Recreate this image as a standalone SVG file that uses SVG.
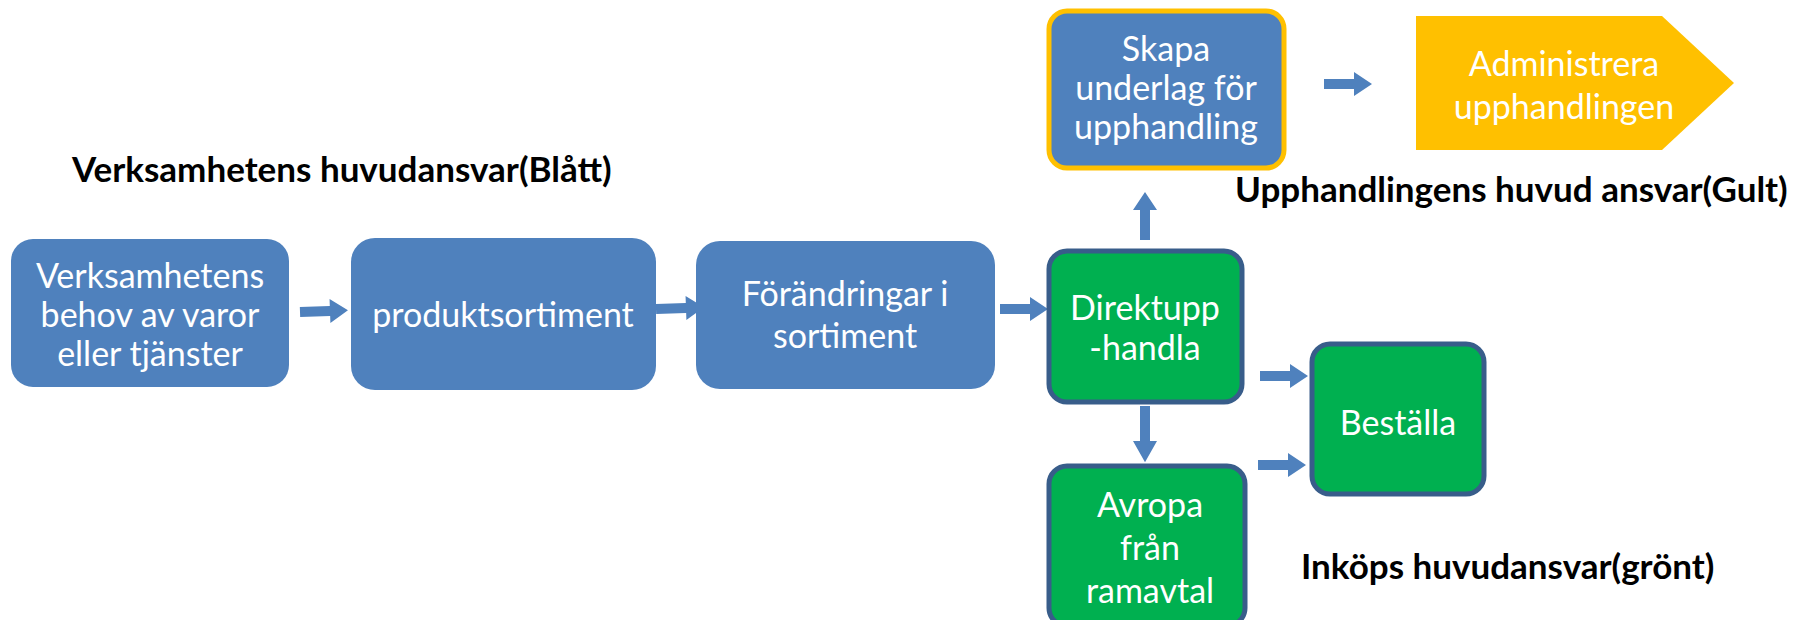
<svg xmlns="http://www.w3.org/2000/svg" width="1810" height="620" viewBox="0 0 1810 620">
  <defs>
    <style>
      .lbl { font-family: Lato, "Liberation Sans", sans-serif; font-size: 34px; fill: #ffffff; text-anchor: middle; dominant-baseline: central; }
      .head { font-family: Lato, "Liberation Sans", sans-serif; font-size: 35px; font-weight: bold; fill: #000000; }
      .blue { fill: #4F81BD; }
      .green { fill: #00B050; stroke: #385D8A; stroke-width: 5; }
      .yellowedge { fill: #4F81BD; stroke: #FFC000; stroke-width: 5; }
      .arrow { fill: #4F81BD; }
    </style>
    <!-- block arrow pointing right, origin at tail centre, length 48 -->
    <path id="blk" d="M0,-5 H30 V-12 L48,0 L30,12 V5 H0 Z"/>
  </defs>
  <rect width="1810" height="620" fill="#ffffff"/>

  <!-- area headings -->
  <text class="head" x="72" y="182">Verksamhetens huvudansvar(Blått)</text>
  <text class="head" x="1235" y="202">Upphandlingens huvud ansvar(Gult)</text>
  <text class="head" x="1301" y="579">Inköps huvudansvar(grönt)</text>

  <!-- connectors -->
  <g id="connectors" class="arrow">
    <use href="#blk" transform="translate(300,312) rotate(-2)"/>
    <use href="#blk" transform="translate(656,309) rotate(-2)"/>
    <use href="#blk" transform="translate(1000,309)"/>
    <use href="#blk" transform="translate(1145,240) rotate(-90)"/>
    <use href="#blk" transform="translate(1324,84)"/>
    <use href="#blk" transform="translate(1145,406) rotate(90) scale(1.17,1)"/>
    <use href="#blk" transform="translate(1260,376)"/>
    <use href="#blk" transform="translate(1258,465)"/>
  </g>

  <g id="behov">
    <rect class="blue" x="11" y="239" width="278" height="148" rx="22"/>
    <text class="lbl" x="150" y="274">Verksamhetens</text>
    <text class="lbl" x="150" y="313">behov av varor</text>
    <text class="lbl" x="150" y="352">eller tjänster</text>
  </g>

  <g id="produktsortiment">
    <rect class="blue" x="351" y="238" width="305" height="152" rx="24"/>
    <text class="lbl" x="503" y="313">produktsortiment</text>
  </g>

  <g id="forandringar">
    <rect class="blue" x="696" y="241" width="299" height="148" rx="24"/>
    <text class="lbl" x="845" y="292">Förändringar i</text>
    <text class="lbl" x="845" y="334">sortiment</text>
  </g>

  <g id="direktupphandla">
    <rect class="green" x="1049" y="251" width="193" height="151" rx="18"/>
    <text class="lbl" x="1145" y="306">Direktupp</text>
    <text class="lbl" x="1145" y="346">-handla</text>
  </g>

  <g id="skapa">
    <rect class="yellowedge" x="1049" y="11" width="235" height="157" rx="18"/>
    <text class="lbl" x="1166" y="47">Skapa</text>
    <text class="lbl" x="1166" y="86">underlag för</text>
    <text class="lbl" x="1166" y="125">upphandling</text>
  </g>

  <g id="administrera">
    <path d="M1416,16 H1662 L1734,83 L1662,150 H1416 Z" fill="#FFC000"/>
    <text class="lbl" x="1564" y="62">Administrera</text>
    <text class="lbl" x="1564" y="105">upphandlingen</text>
  </g>

  <g id="bestalla">
    <rect class="green" x="1312" y="344" width="172" height="150" rx="18"/>
    <text class="lbl" x="1398" y="421">Beställa</text>
  </g>

  <g id="avropa">
    <rect class="green" x="1049" y="466" width="196" height="160" rx="18"/>
    <text class="lbl" x="1150" y="503">Avropa</text>
    <text class="lbl" x="1150" y="546">från</text>
    <text class="lbl" x="1150" y="589">ramavtal</text>
  </g>
</svg>
